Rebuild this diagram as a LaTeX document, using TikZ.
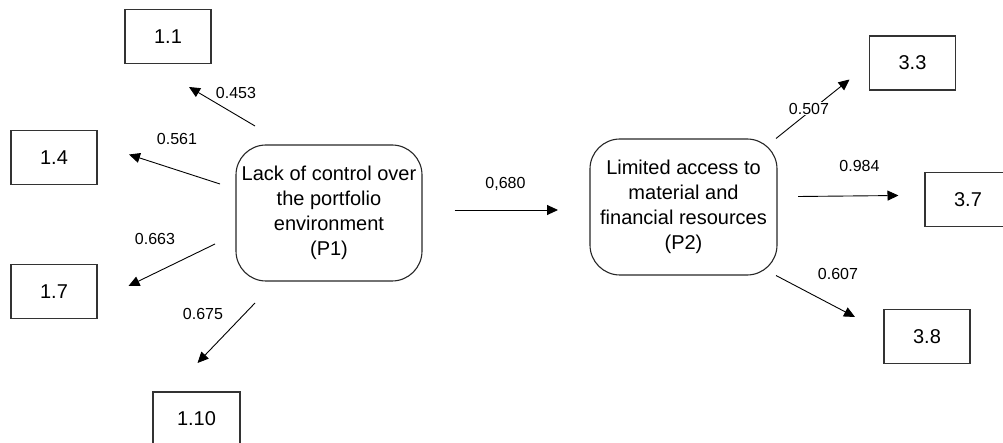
\documentclass[tikz,border=0pt]{standalone}
\usepackage{fontspec}
\setmainfont{Liberation Sans}
\usetikzlibrary{arrows.meta}
\begin{document}
\begin{tikzpicture}[x=1pt,y=-1pt,
  ibox/.style={draw=black!80,line width=1.1pt,minimum width=86pt,minimum height=54pt,inner sep=0pt,font=\fontsize{20}{24}\selectfont},
  pbox/.style={draw=black!85,line width=1.1pt,rounded corners=30pt,minimum height=136pt,inner sep=0pt,align=center,font=\fontsize{20}{25}\selectfont},
  arr/.style={line width=0.9pt,-{Triangle[length=11pt,width=10pt]}},
  lab/.style={fill=white,inner sep=1pt,font=\fontsize{16}{18}\selectfont}]
\clip (0,0) rectangle (1003,443);
\useasboundingbox (0,0) rectangle (1003,443);
% latent constructs
\node[pbox,minimum width=186pt] (p1) at (329,213) {Lack of control over\\the portfolio\\environment\\(P1)};
\node[pbox,minimum width=187pt] (p2) at (683.5,207) {Limited access to\\material and\\financial resources\\(P2)};
% indicator boxes
\node[ibox] (b11) at (168,36.5) {1.1};
\node[ibox] (b14) at (54,157.5) {1.4};
\node[ibox] (b17) at (54,291.5) {1.7};
\node[ibox,minimum width=87pt] (b110) at (196.5,419) {1.10};
\node[ibox] (b33) at (912.5,63) {3.3};
\node[ibox] (b37) at (968,199.5) {3.7};
\node[ibox] (b38) at (927,336.5) {3.8};
% arrow end points
\coordinate (a1s) at (255,126);   \coordinate (a1e) at (189,87);
\coordinate (a2s) at (220,184);   \coordinate (a2e) at (129,154.5);
\coordinate (a3s) at (215,244);   \coordinate (a3e) at (128.5,286);
\coordinate (a4s) at (255,303);   \coordinate (a4e) at (197.5,363);
\coordinate (a5s) at (454.5,210); \coordinate (a5e) at (558,210);
\coordinate (a6s) at (776,138.5); \coordinate (a6e) at (849.5,79.5);
\coordinate (a7s) at (798,196.5); \coordinate (a7e) at (898.5,195.5);
\coordinate (a8s) at (776,275.5); \coordinate (a8e) at (855,317);
% arrows
\draw[arr] (a1s) -- (a1e);
\draw[arr] (a2s) -- (a2e);
\draw[arr] (a3s) -- (a3e);
\draw[arr] (a4s) -- (a4e);
\draw[arr] (a5s) -- (a5e);
\draw[arr] (a6s) -- (a6e);
\draw[arr] (a7s) -- (a7e);
\draw[arr] (a8s) -- (a8e);
% labels
\node[lab] (l1) at (236,93) {0.453};
\node[lab] (l2) at (177,139) {0.561};
\node[lab] (l3) at (155,239) {0.663};
\node[lab] (l4) at (203,314) {0.675};
\node[lab] (l5) at (505.5,183.5) {0,680};
\node[lab] (l6) at (809,108.5) {0.507};
\node[lab] (l7) at (859.5,166) {0.984};
\node[lab] (l8) at (838,274) {0.607};
\end{tikzpicture}
\end{document}
